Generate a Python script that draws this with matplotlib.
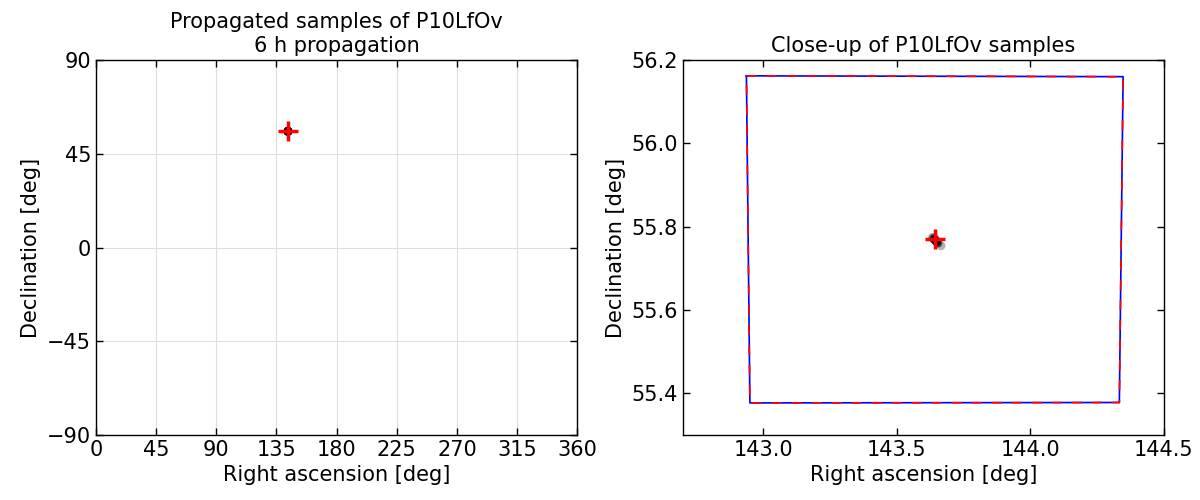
import numpy as np
import matplotlib
matplotlib.use('Agg')
import matplotlib.pyplot as plt

# observed field-of-view corners (RA, Dec) in degrees
fov_ra = [142.938, 144.347, 144.333, 142.951, 142.938]
fov_dec = [56.162, 56.160, 55.378, 55.377, 56.162]

# propagated samples
sample_ra = [143.634, 143.636, 143.638, 143.640, 143.641, 143.643, 143.644, 143.646,
             143.647, 143.649, 143.650, 143.652, 143.654, 143.655, 143.648, 143.643, 143.666]
sample_dec = [55.774, 55.773, 55.771, 55.770, 55.769, 55.768, 55.767, 55.766,
              55.765, 55.764, 55.763, 55.762, 55.761, 55.760, 55.766, 55.772, 55.754]

# nominal target position
target_ra = [143.643]
target_dec = [55.771]

obj_name = 'P10LfOv'
hours = 6

plt.rcParams['font.family'] = ['DejaVu Sans']
plt.rcParams['xtick.direction'] = 'in'
plt.rcParams['ytick.direction'] = 'in'
plt.rcParams['xtick.top'] = True
plt.rcParams['ytick.right'] = True
plt.rcParams['xtick.major.size'] = 5
plt.rcParams['ytick.major.size'] = 5


def draw(ax):
    ax.scatter(sample_ra, sample_dec, s=40, c='k', alpha=0.3, edgecolors='none', zorder=3)
    ax.plot(fov_ra, fov_dec, 'b-', lw=1.2, zorder=2)
    ax.plot(fov_ra, fov_dec, 'r--', lw=1.2, dashes=(6, 6), zorder=2)
    ax.plot(target_ra, target_dec, 'r+', ms=15, mew=2.5, zorder=4)


fig = plt.figure(figsize=(12, 5), dpi=100)
ax1 = fig.add_axes([0.08, 0.13, 0.401, 0.75])
ax2 = fig.add_axes([0.569, 0.13, 0.401, 0.75])

draw(ax1)
ax1.set_xlim(0, 360)
ax1.set_ylim(-90, 90)
ax1.set_xticks(np.arange(0, 361, 45))
ax1.set_yticks(np.arange(-90, 91, 45))
ax1.grid(True, color='#dddddd', lw=0.8, ls='-')
ax1.set_axisbelow(True)
ax1.set_title('Propagated samples of %s\n%d h propagation' % (obj_name, hours), fontsize=15)
ax1.set_xlabel('Right ascension [deg]', fontsize=15)
ax1.set_ylabel('Declination [deg]', fontsize=15)

draw(ax2)
ax2.set_xlim(142.7, 144.5)
ax2.set_ylim(55.3, 56.2)
ax2.set_xticks([143.0, 143.5, 144.0, 144.5])
ax2.set_yticks([55.4, 55.6, 55.8, 56.0, 56.2])
ax2.xaxis.set_major_formatter(matplotlib.ticker.FormatStrFormatter('%.1f'))
ax2.yaxis.set_major_formatter(matplotlib.ticker.FormatStrFormatter('%.1f'))
ax2.set_title('Close-up of %s samples' % obj_name, fontsize=15)
ax2.set_xlabel('Right ascension [deg]', fontsize=15)
ax2.set_ylabel('Declination [deg]', fontsize=15)

for ax in (ax1, ax2):
    ax.tick_params(labelsize=15, width=1)
    for sp in ax.spines.values():
        sp.set_linewidth(1)

fig.savefig('out.png', dpi=100)
